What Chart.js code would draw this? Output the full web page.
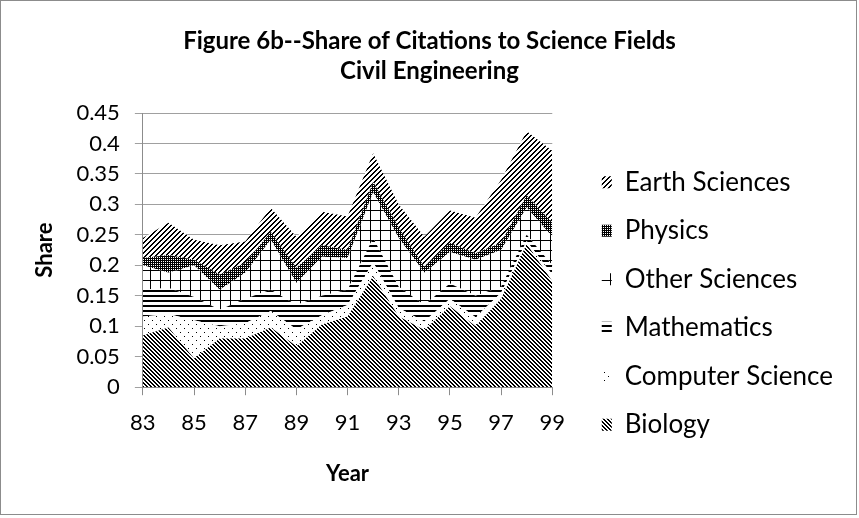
<!DOCTYPE html>
<html>
<head>
	<title>Share of Citations to Science Fields - Civil Engineering</title>
	<meta charset="UTF-8">
	<script src="https://cdn.jsdelivr.net/npm/chart.js"></script>
	<style type="text/css">
		html, body { margin: 0; padding: 0; background: #fff; }
		.chart-container { width: 859px; height: 518px; position: relative; }
	</style>
</head>
<body>
	<div class="chart-container">
		<canvas id="chart"></canvas>
	</div>
	<script type="text/javascript">
// years on the x axis (19xx)
var years = ['83', '84', '85', '86', '87', '88', '89', '90', '91', '92', '93', '94', '95', '96', '97', '98', '99'];

// share of citations per field (stacked, bottom to top)
var biology     = [0.085, 0.098, 0.047, 0.080, 0.080, 0.098, 0.067, 0.103, 0.116, 0.182, 0.116, 0.094, 0.133, 0.100, 0.145, 0.235, 0.174];
var compScience = [0.031, 0.022, 0.063, 0.020, 0.025, 0.027, 0.028, 0.015, 0.019, 0.023, 0.014, 0.014, 0.012, 0.015, 0.010, 0.005, 0.011];
var mathematics = [0.044, 0.043, 0.038, 0.027, 0.040, 0.035, 0.040, 0.032, 0.025, 0.040, 0.035, 0.027, 0.025, 0.035, 0.010, 0.010, 0.015];
var otherSci    = [0.040, 0.025, 0.052, 0.033, 0.043, 0.082, 0.036, 0.064, 0.052, 0.075, 0.080, 0.053, 0.052, 0.059, 0.060, 0.045, 0.047];
var physics     = [0.012, 0.029, 0.009, 0.025, 0.016, 0.013, 0.025, 0.019, 0.013, 0.017, 0.017, 0.010, 0.015, 0.011, 0.012, 0.020, 0.023];
var earthSci    = [0.033, 0.053, 0.033, 0.048, 0.035, 0.039, 0.051, 0.055, 0.055, 0.047, 0.038, 0.049, 0.053, 0.058, 0.103, 0.105, 0.118];

var yTicks = [0, 0.05, 0.1, 0.15, 0.2, 0.25, 0.3, 0.35, 0.4, 0.45];

var FONT = "Lato, 'Open Sans', sans-serif";

// small black & white fill patterns, like the old excel ones
function makePattern(size, pixelOn) {
  var c = document.createElement('canvas');
  c.width = size;
  c.height = size;
  var g = c.getContext('2d');
  g.fillStyle = '#fff';
  g.fillRect(0, 0, size, size);
  g.fillStyle = '#000';
  for (var x = 0; x < size; x++) {
    for (var y = 0; y < size; y++) {
      if (pixelOn(x, y)) g.fillRect(x, y, 1, 1);
    }
  }
  return document.getElementById('chart').getContext('2d').createPattern(c, 'repeat');
}

var patEarth   = makePattern(5, function(x, y) { return (x + y) % 5 === 0 || (x + y) % 5 === 1; });
var patPhysics = makePattern(2, function(x, y) { return !(x === 1 && y === 1); });
var patOther   = makePattern(10, function(x, y) { return x === 0 || y === 0; });
var patMath    = makePattern(5, function(x, y) { return y === 0 || y === 1; });
var patComp    = makePattern(8, function(x, y) { return (x === 0 && y === 0) || (x === 4 && y === 4); });
var patBio     = makePattern(4, function(x, y) { return (x - y + 8) % 4 === 0 || (x - y + 8) % 4 === 1; });

function area(label, data, pattern, fill) {
  return {
    label: label,
    data: data,
    backgroundColor: pattern,
    borderColor: 'rgba(0,0,0,0)',
    borderWidth: 0,
    pointRadius: 0,
    pointHoverRadius: 0,
    tension: 0,
    fill: fill
  };
}

// white background and the thin grey frame round the whole chart
var frame = {
  id: 'frame',
  beforeDraw: function(chart) {
    var ctx = chart.ctx;
    ctx.save();
    ctx.fillStyle = '#fff';
    ctx.fillRect(0, 0, chart.width, chart.height);
    ctx.strokeStyle = '#8c8c8c';
    ctx.lineWidth = 1;
    ctx.strokeRect(0.5, 0.5, chart.width - 3, chart.height - 4);
    ctx.restore();
  }
};

var ctx = document.getElementById('chart').getContext('2d');
var chart = new Chart(ctx, {
  type: 'line',
  data: {
    labels: years,
    datasets: [
      area('Biology', biology, patBio, 'origin'),
      area('Computer Science', compScience, patComp, '-1'),
      area('Mathematics', mathematics, patMath, '-1'),
      area('Other Sciences', otherSci, patOther, '-1'),
      area('Physics', physics, patPhysics, '-1'),
      area('Earth Sciences', earthSci, patEarth, '-1')
    ]
  },
  options: {
    responsive: true,
    maintainAspectRatio: false,
    animation: false,
    events: [],
    layout: {
      padding: { left: 16, right: 16, top: 0, bottom: 31 }
    },
    plugins: {
      title: {
        display: true,
        text: ['Figure 6b--Share of Citations to Science Fields', 'Civil Engineering'],
        color: '#000',
        font: { family: FONT, size: 24, weight: 'bold', lineHeight: 1.25 },
        padding: { top: 26, bottom: 27 }
      },
      legend: {
        position: 'right',
        reverse: true,
        maxWidth: 320,
        // empty legend title, only moves the items down
        title: { display: true, text: ' ', font: { size: 12, lineHeight: 1 }, padding: { top: 54, bottom: 54 } },
        labels: {
          color: '#000',
          font: { family: FONT, size: 26 },
          boxWidth: 10,
          boxHeight: 12,
          padding: 22.5
        }
      },
      tooltip: { enabled: false }
    },
    scales: {
      x: {
        type: 'category',
        offset: false,
        grid: {
          drawOnChartArea: false,
          tickLength: 8,
          color: function(c) { return c.index % 2 === 0 ? '#8c8c8c' : 'rgba(0,0,0,0)'; }
        },
        border: { color: '#8c8c8c' },
        ticks: {
          autoSkip: false,
          maxRotation: 0,
          color: '#000',
          padding: 15,
          font: { family: FONT, size: 22 },
          callback: function(v, i) { return i % 2 === 0 ? years[i] : ''; }
        },
        title: {
          display: true,
          text: 'Year',
          color: '#000',
          font: { family: FONT, size: 22, weight: 'bold' },
          padding: { top: 9, bottom: 0 }
        }
      },
      y: {
        stacked: true,
        min: 0,
        max: 0.45,
        afterBuildTicks: function(scale) {
          scale.ticks = yTicks.map(function(v) { return { value: v }; });
        },
        grid: { color: '#a0a0a0', tickLength: 8 },
        border: { color: '#8c8c8c' },
        ticks: {
          autoSkip: false,
          color: '#000',
          padding: 15,
          font: { family: FONT, size: 22 },
          callback: function(v) { return String(Math.round(v * 100) / 100); }
        },
        title: {
          display: true,
          text: 'Share',
          color: '#000',
          font: { family: FONT, size: 22, weight: 'bold' },
          padding: { top: 16, bottom: 3 }
        }
      },
      // empty axis, only keeps the gap between plot and legend
      yGap: {
        position: 'right',
        display: true,
        min: 0,
        max: 1,
        grid: { display: false },
        ticks: { display: false },
        border: { display: false },
        afterFit: function(scale) { scale.width = 27; }
      }
    }
  },
  plugins: [frame]
});
	</script>
</body>
</html>
